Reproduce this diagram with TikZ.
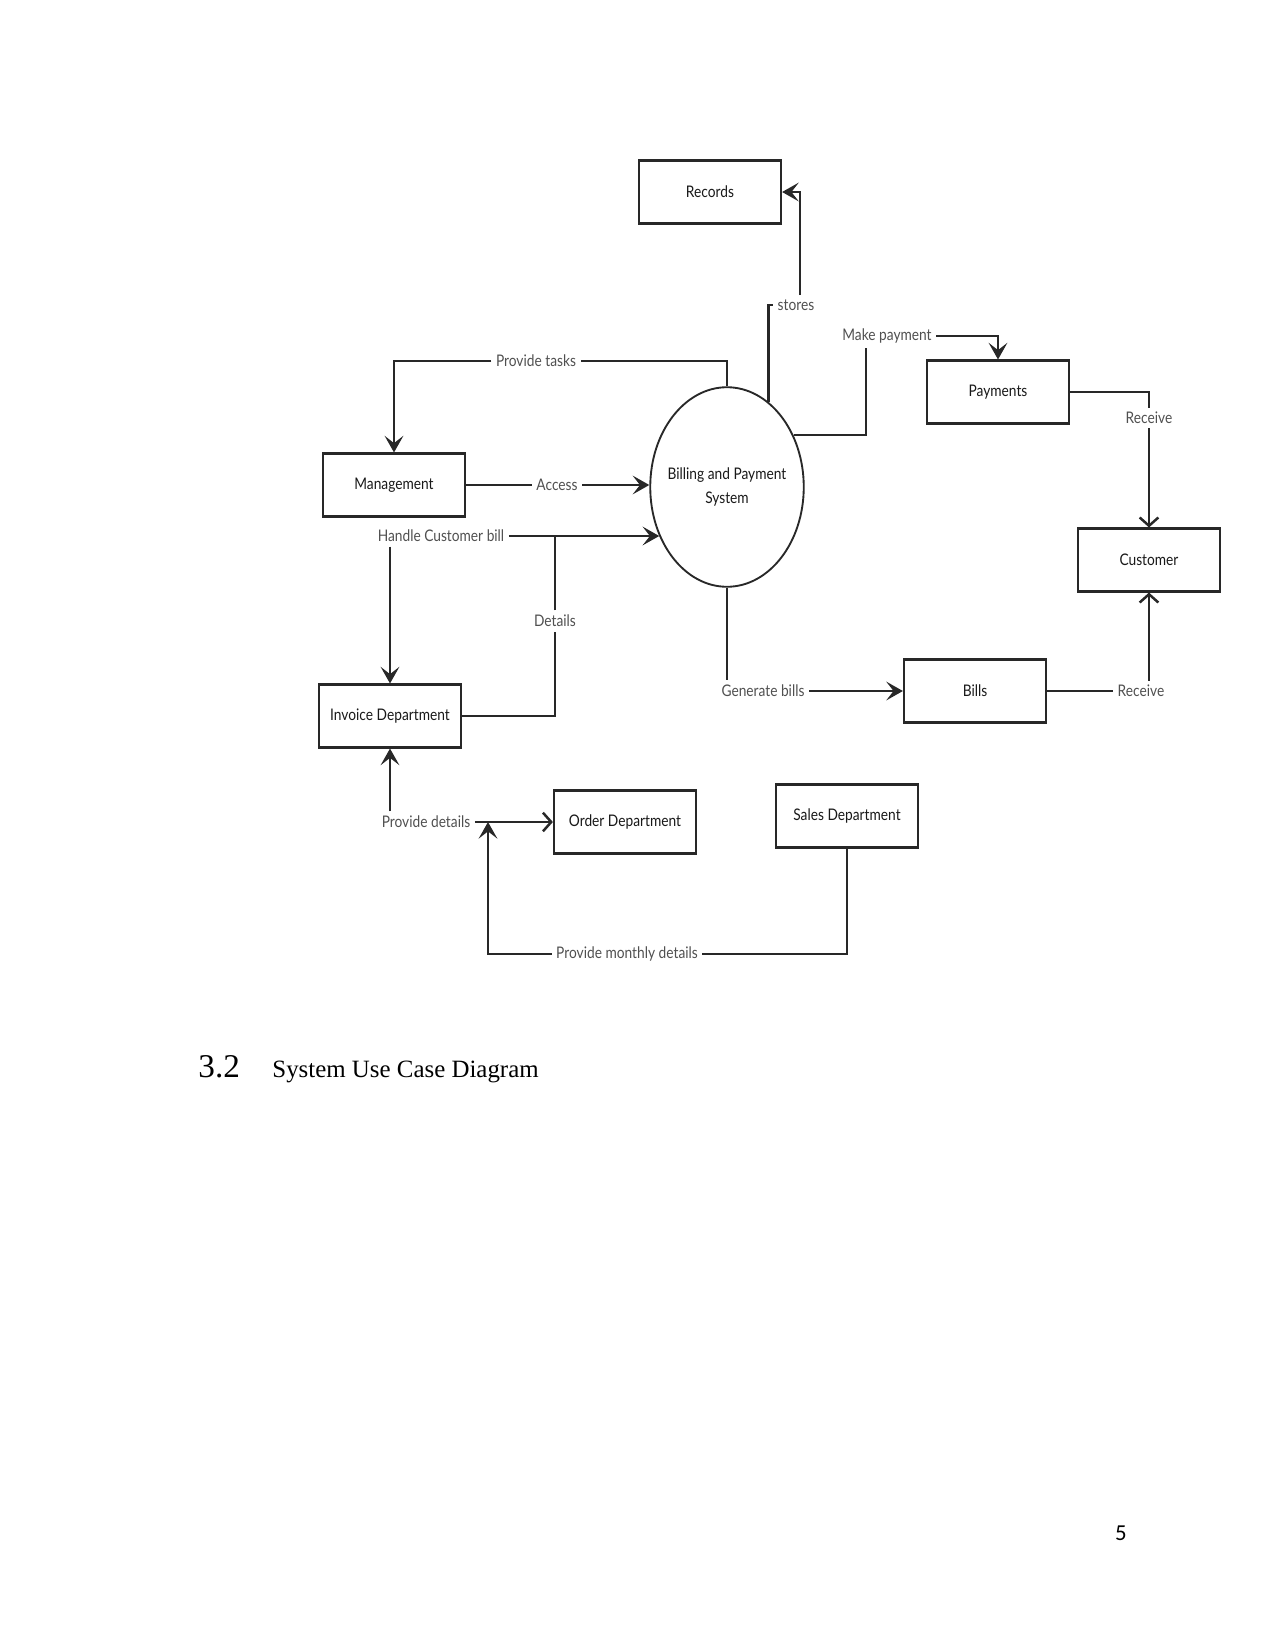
\documentclass[tikz,border=0pt]{standalone}
\usepackage{fontspec}
\usepackage{tikz}
\usetikzlibrary{shapes.geometric, arrows.meta, positioning, calc}
\newfontfamily\diagfont[FakeStretch=0.86]{Lato}
\newfontfamily\pagefont{Liberation Serif}
\newfontfamily\numfont{Carlito}
\definecolor{linecol}{RGB}{40,40,40}
\definecolor{labelcol}{RGB}{80,80,80}
\definecolor{textcol}{RGB}{25,25,25}

\begin{document}
\begin{tikzpicture}[
  x=0.016933cm, y=-0.016933cm,
  box/.style={
    rectangle, minimum width=2.4cm, minimum height=1.06cm,
    draw=linecol, line width=1.2pt, text=textcol,
    font=\diagfont\fontsize{7.7}{9}\selectfont
  },
  bubble/.style={
    ellipse, minimum width=2.6cm, minimum height=3.38cm, inner sep=0pt,
    draw=linecol, line width=0.9pt
  },
  bubbletext/.style={
    text=textcol, align=center,
    font=\diagfont\fontsize{7.7}{11.5}\selectfont
  },
  flowlabel/.style={
    inner sep=2pt, text=labelcol,
    font=\diagfont\fontsize{7.7}{9}\selectfont
  },
  flow/.style={draw=linecol, line width=1.2pt},
  arrow/.style={flow, -{Stealth[length=8pt, width=9pt, inset=3.5pt]}},
  barb/.style={flow, -{Straight Barb[length=4pt, width=9pt]}}
]
\useasboundingbox (0,0) rectangle (1275,1650);

% ── Central process ──
\node[bubble] (bps) at (727,487) {};
\node[bubbletext] (bps_text) at (bps) {Billing and Payment\\System};

% ── Entities ──
\node[box] (records) at (710,192) {Records};
\node[box] (mgmt) at (394,485) {Management};
\node[box] (invoice) at (390,716) {Invoice Department};
\node[box] (payments) at (998,392) {Payments};
\node[box] (customer) at (1149,560) {Customer};
\node[box] (bills) at (975,691) {Bills};
\node[box] (order) at (625,822) {Order Department};
\node[box] (sales) at (847,816) {Sales Department};

% ── Flow labels ──
\node[flowlabel] (stores) at (796,305) {stores};
\node[flowlabel] (tasks) at (536,361) {Provide tasks};
\node[flowlabel] (access) at (557,485) {Access};
\node[flowlabel] (handle) at (441,536) {Handle Customer bill};
\node[flowlabel] (details) at (555,621) {Details};
\node[flowlabel] (mkpay) at (887,336) {Make payment};
\node[flowlabel] (rcv_pay) at (1149,418) {Receive};
\node[flowlabel] (genbills) at (763,691) {Generate bills};
\node[flowlabel] (rcv_bill) at (1141,691) {Receive};
\node[flowlabel] (pdet) at (426,822) {Provide details};
\node[flowlabel] (pmonth) at (627,954) {Provide monthly details};
\coordinate (join) at (488,822);

% ── Arrows: process to records ──
\draw[flow] (bps.64.8) |- (stores.west);
\draw[arrow] ([xshift=0.07cm]stores.north) |- (records.east);

% ── Arrows: management ──
\draw[flow] (bps.north) |- (tasks.east);
\draw[arrow] (tasks.west) -| (mgmt.north);
\draw[flow] (mgmt.east) -- (mgmt.east -| access.west);
\draw[arrow] (access.east) -- (access.east -| bps.west);

% ── Arrows: customer bill + invoice ──
\draw[arrow] (handle.east) -- (handle.east -| bps.216);
\draw[arrow] (handle.south -| invoice.north) -- (invoice.north);
\draw[flow] (invoice.east) -| (details.south);
\draw[flow] (details.north) -- (details.north |- handle.east);

% ── Arrows: payments + customer ──
\draw[flow] (bps.38.3) -| ([xshift=-0.36cm]mkpay.south);
\draw[arrow] (mkpay.east) -| (payments.north);
\draw[flow] (payments.east) -| (rcv_pay.north);
\draw[barb] (rcv_pay.south) -- (customer.north);

% ── Arrows: bills ──
\draw[flow] (bps.south) -- (bps.south |- genbills.north);
\draw[arrow] (genbills.east) -- (bills.west);
\draw[flow] (bills.east) -- (rcv_bill.west);
\draw[barb] (rcv_bill.north -| customer.south) -- (customer.south);

% ── Arrows: departments ──
\draw[arrow] (pdet.north -| invoice.south) -- (invoice.south);
\draw[barb] (pdet.east) -- (pdet.east -| order.west);
\draw[flow] (sales.south) |- (pmonth.east);
\draw[arrow] (pmonth.west) -| (join);

% ── Page text ──
\node[anchor=base west, inner sep=0pt, font=\pagefont\fontsize{16}{19}\selectfont] (secnum) at (198,1077) {3.2};
\node[anchor=base west, inner sep=0pt, font=\pagefont\fontsize{12}{14}\selectfont] (sectitle) at (272,1077) {System Use Case Diagram};
\node[inner sep=0pt, font=\numfont\fontsize{11}{13}\selectfont] (pagenum) at (1121,1533) {5};

\end{tikzpicture}
\end{document}
